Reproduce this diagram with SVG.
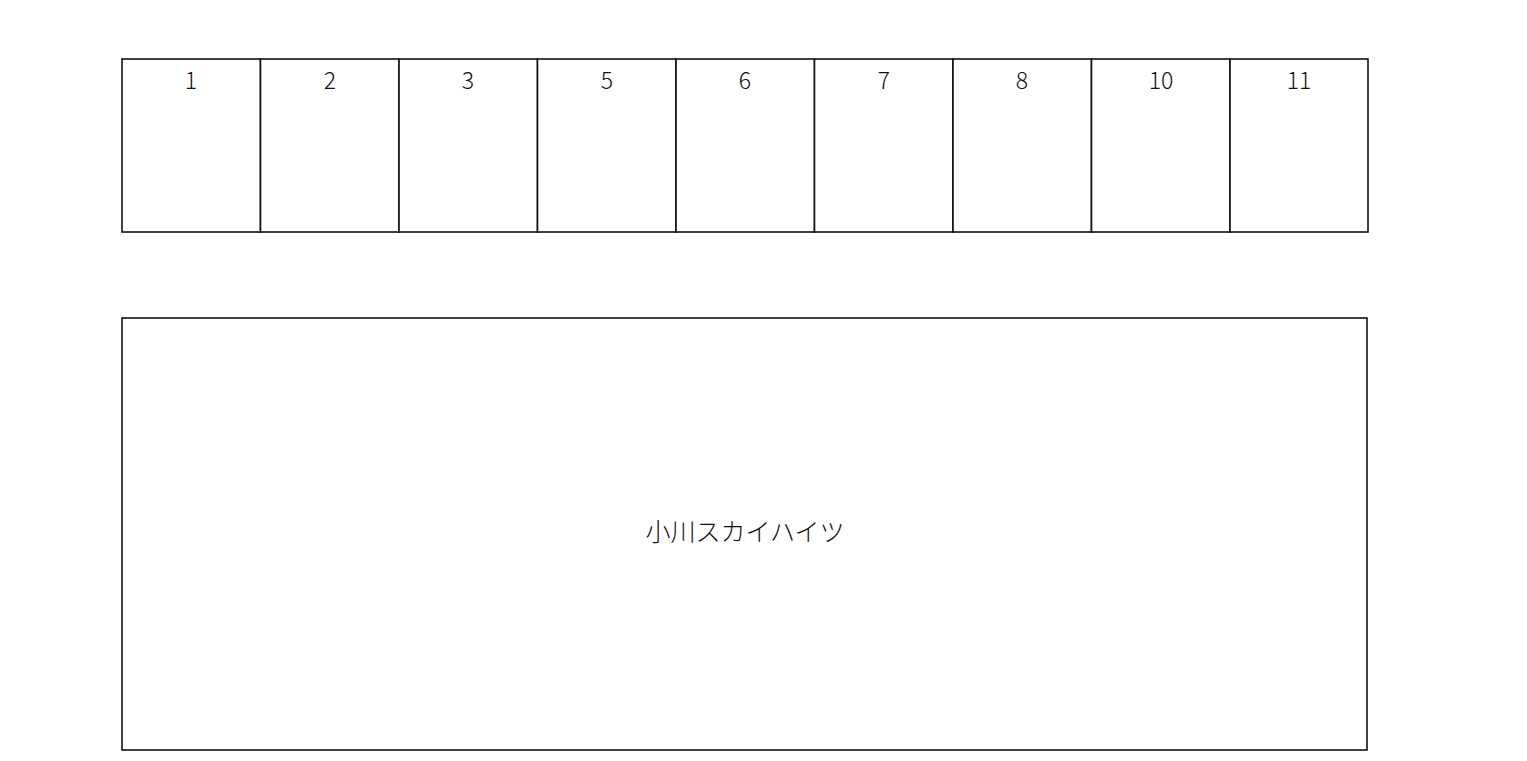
<svg xmlns="http://www.w3.org/2000/svg" width="1527" height="761" viewBox="0 0 1527 761">
<style>
.b{fill:#fff;stroke:#111;stroke-width:1.6}
.n{font-family:"Noto Sans CJK JP","Noto Sans",sans-serif;font-weight:300;font-size:23px;fill:#111;text-anchor:middle}
.t{font-family:"Noto Sans CJK JP",sans-serif;font-weight:300;font-size:25px;fill:#111;text-anchor:middle}
</style>
<rect width="1527" height="761" fill="#fff"/>
<g id="units">
<g id="u1"><rect class="b" x="122" y="59" width="138.5" height="173"/><text class="n" x="191" y="89">1</text></g>
<g id="u2"><rect class="b" x="260.5" y="59" width="138.5" height="173"/><text class="n" x="330" y="89">2</text></g>
<g id="u3"><rect class="b" x="399" y="59" width="138.5" height="173"/><text class="n" x="468" y="89">3</text></g>
<g id="u5"><rect class="b" x="537.5" y="59" width="138.5" height="173"/><text class="n" x="607" y="89">5</text></g>
<g id="u6"><rect class="b" x="676" y="59" width="138.5" height="173"/><text class="n" x="745" y="89">6</text></g>
<g id="u7"><rect class="b" x="814.5" y="59" width="138.5" height="173"/><text class="n" x="884" y="89">7</text></g>
<g id="u8"><rect class="b" x="953" y="59" width="138.5" height="173"/><text class="n" x="1022" y="89">8</text></g>
<g id="u10"><rect class="b" x="1091.5" y="59" width="138.5" height="173"/><text class="n" x="1161" y="89">10</text></g>
<g id="u11"><rect class="b" x="1230" y="59" width="138" height="173"/><text class="n" x="1299" y="89">11</text></g>
</g>
<g id="building"><rect class="b" x="122" y="318" width="1245" height="432"/><text class="t" x="745" y="541">小川スカイハイツ</text></g>
<g id="connectors"/>
</svg>
